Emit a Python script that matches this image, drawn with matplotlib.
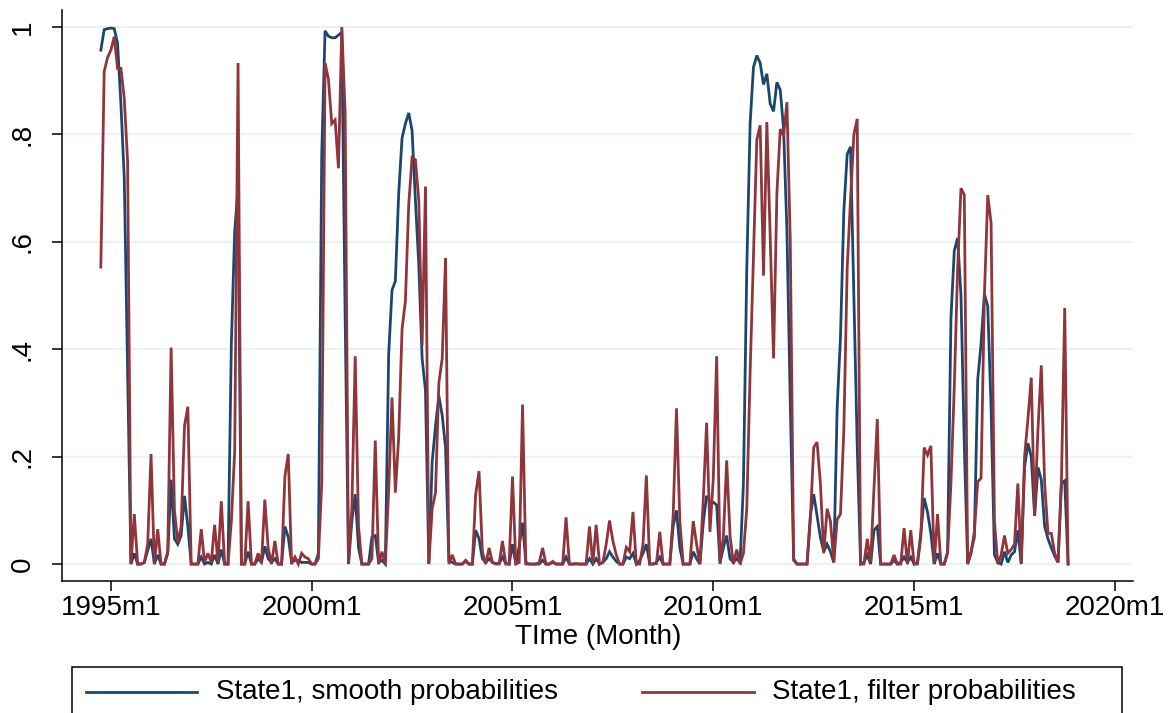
import matplotlib
matplotlib.use("Agg")
import matplotlib.pyplot as plt
from matplotlib.lines import Line2D
from matplotlib.patches import Rectangle
import numpy as np

# months since 1995m1 (first obs 1994m10)
start_month = -3

filter_prob = [
    0.553, 0.917, 0.943, 0.957, 0.982, 0.923, 0.923, 0.867, 0.75, 0.0,
    0.093, 0.0, 0.0, 0.003, 0.037, 0.205, 0.0, 0.065, 0.0, 0.0,
    0.023, 0.403, 0.1, 0.04, 0.07, 0.257, 0.293, 0.0, 0.0, 0.0,
    0.065, 0.003, 0.02, 0.003, 0.073, 0.003, 0.117, 0.0, 0.0, 0.08,
    0.21, 0.933, 0.0, 0.0, 0.117, 0.0, 0.0, 0.02, 0.003, 0.12,
    0.03, 0.0, 0.043, 0.0, 0.0, 0.163, 0.205, 0.0, 0.013, 0.0,
    0.02, 0.013, 0.01, 0.0, 0.0, 0.01, 0.15, 0.933, 0.903, 0.82,
    0.827, 0.737, 1.0, 0.84, 0.0, 0.103, 0.387, 0.07, 0.0, 0.0,
    0.0, 0.01, 0.23, 0.0, 0.023, 0.0, 0.137, 0.31, 0.133, 0.237,
    0.437, 0.49, 0.67, 0.757, 0.753, 0.677, 0.407, 0.703, 0.0, 0.103,
    0.133, 0.337, 0.383, 0.57, 0.0, 0.017, 0.0, 0.0, 0.0, 0.007,
    0.0, 0.0, 0.13, 0.173, 0.023, 0.0, 0.03, 0.003, 0.0, 0.0,
    0.043, 0.0, 0.0, 0.163, 0.0, 0.003, 0.297, 0.0, 0.0, 0.0,
    0.0, 0.003, 0.03, 0.0, 0.0, 0.005, 0.0, 0.0, 0.0, 0.087,
    0.0, 0.0, 0.001, 0.0, 0.0, 0.0, 0.07, 0.0, 0.073, 0.0,
    0.003, 0.037, 0.081, 0.043, 0.017, 0.0, 0.0, 0.031, 0.023, 0.097,
    0.0, 0.0, 0.037, 0.165, 0.0, 0.0, 0.001, 0.06, 0.0, 0.0,
    0.0, 0.09, 0.29, 0.08, 0.0, 0.0, 0.0, 0.08, 0.037, 0.0,
    0.12, 0.263, 0.06, 0.16, 0.387, 0.0, 0.05, 0.193, 0.053, 0.0,
    0.027, 0.0, 0.02, 0.103, 0.357, 0.57, 0.79, 0.817, 0.537, 0.823,
    0.61, 0.383, 0.69, 0.81, 0.797, 0.86, 0.6, 0.01, 0.0, 0.0,
    0.0, 0.0, 0.085, 0.217, 0.227, 0.15, 0.02, 0.103, 0.08, 0.003,
    0.083, 0.093, 0.25, 0.55, 0.68, 0.8, 0.829, 0.0, 0.0, 0.047,
    0.003, 0.14, 0.27, 0.0, 0.0, 0.0, 0.0, 0.017, 0.0, 0.0,
    0.067, 0.0, 0.063, 0.0, 0.0, 0.05, 0.217, 0.203, 0.22, 0.0,
    0.093, 0.0, 0.0, 0.02, 0.15, 0.33, 0.55, 0.7, 0.687, 0.0,
    0.02, 0.06, 0.153, 0.16, 0.5, 0.687, 0.635, 0.08, 0.0, 0.017,
    0.053, 0.02, 0.027, 0.037, 0.15, 0.003, 0.2, 0.27, 0.347, 0.09,
    0.25, 0.37, 0.15, 0.057, 0.057, 0.02, 0.003, 0.15, 0.477, 0.0,
]

smooth_prob = [
    0.957, 0.995, 0.997, 0.998, 0.997, 0.97, 0.857, 0.72, 0.36, 0.0,
    0.02, 0.0, 0.0, 0.003, 0.025, 0.047, 0.0, 0.017, 0.0, 0.0,
    0.02, 0.157, 0.047, 0.037, 0.053, 0.127, 0.07, 0.0, 0.0, 0.0,
    0.013, 0.0, 0.003, 0.0, 0.017, 0.0, 0.027, 0.0, 0.0, 0.41,
    0.62, 0.7, 0.0, 0.0, 0.023, 0.0, 0.0, 0.01, 0.003, 0.033,
    0.01, 0.003, 0.01, 0.0, 0.0, 0.07, 0.05, 0.003, 0.007, 0.007,
    0.003, 0.003, 0.003, 0.0, 0.0, 0.02, 0.76, 0.993, 0.983, 0.98,
    0.98, 0.985, 0.99, 0.46, 0.0, 0.08, 0.13, 0.03, 0.0, 0.0,
    0.0, 0.05, 0.053, 0.003, 0.007, 0.0, 0.39, 0.51, 0.527, 0.69,
    0.793, 0.82, 0.84, 0.807, 0.677, 0.557, 0.383, 0.323, 0.0, 0.19,
    0.257, 0.313, 0.277, 0.217, 0.007, 0.003, 0.0, 0.0, 0.0, 0.005,
    0.0, 0.0, 0.063, 0.047, 0.01, 0.003, 0.01, 0.003, 0.001, 0.001,
    0.013, 0.001, 0.0, 0.037, 0.0, 0.033, 0.077, 0.003, 0.0, 0.0,
    0.0, 0.0, 0.007, 0.0, 0.0, 0.003, 0.0, 0.0, 0.0, 0.013,
    0.0, 0.0, 0.0, 0.0, 0.0, 0.0, 0.01, 0.0, 0.01, 0.0,
    0.003, 0.01, 0.023, 0.013, 0.005, 0.0, 0.0, 0.013, 0.01, 0.02,
    0.0, 0.007, 0.02, 0.037, 0.0, 0.0, 0.003, 0.013, 0.0, 0.0,
    0.0, 0.07, 0.1, 0.03, 0.0, 0.0, 0.0, 0.023, 0.01, 0.0,
    0.077, 0.127, 0.117, 0.115, 0.11, 0.003, 0.03, 0.053, 0.01, 0.003,
    0.01, 0.003, 0.15, 0.55, 0.82, 0.925, 0.947, 0.933, 0.893, 0.913,
    0.857, 0.843, 0.897, 0.883, 0.81, 0.62, 0.3, 0.007, 0.0, 0.0,
    0.0, 0.0, 0.09, 0.13, 0.09, 0.05, 0.023, 0.037, 0.023, 0.003,
    0.29, 0.423, 0.657, 0.763, 0.777, 0.5, 0.22, 0.0, 0.003, 0.017,
    0.0, 0.063, 0.07, 0.0, 0.0, 0.0, 0.0, 0.007, 0.0, 0.003,
    0.013, 0.003, 0.013, 0.0, 0.003, 0.057, 0.123, 0.097, 0.057, 0.0,
    0.02, 0.0, 0.0, 0.023, 0.457, 0.583, 0.607, 0.5, 0.22, 0.0,
    0.023, 0.05, 0.343, 0.41, 0.503, 0.48, 0.29, 0.017, 0.003, 0.0,
    0.023, 0.003, 0.017, 0.023, 0.063, 0.0, 0.18, 0.225, 0.2, 0.09,
    0.18, 0.157, 0.07, 0.047, 0.03, 0.015, 0.003, 0.15, 0.155, 0.0,
]

tick_months = [0, 60, 120, 180, 240, 300]
tick_labels = ["1995m1", "2000m1", "2005m1", "2010m1", "2015m1", "2020m1"]
ytick_vals = [0, 0.2, 0.4, 0.6, 0.8, 1.0]
ytick_labels = ["0", ".2", ".4", ".6", ".8", "1"]
series_names = ["State1, smooth probabilities", "State1, filter probabilities"]

NAVY = "#1a476f"
MAROON = "#90353b"
GRID = "#eaf2f3"
LW = 2.0

plt.rcParams['font.family'] = ['Liberation Sans', 'DejaVu Sans']

W, H = 1168, 713
fig = plt.figure(figsize=(W / 100, H / 100), dpi=100)
fig.patch.set_facecolor("white")

x0, x1 = 62, 1133
ytop, ybot = 10, 580.7
ax = fig.add_axes([x0 / W, 1 - ybot / H, (x1 - x0) / W, (ybot - ytop) / H])

t = np.arange(start_month, start_month + len(filter_prob))
ax.plot(t, smooth_prob, color=NAVY, lw=LW, solid_joinstyle="miter", zorder=3)
ax.plot(t, filter_prob, color=MAROON, lw=LW, solid_joinstyle="miter", zorder=4)

ax.set_xlim(-14.6, 305.4)
ax.set_ylim(-0.031, 1.0317)

ax.set_yticks(ytick_vals)
ax.set_yticklabels(ytick_labels, rotation=90, va="center", fontsize=20)
ax.set_xticks(tick_months)
ax.set_xticklabels(tick_labels, fontsize=20)
ax.tick_params(axis="both", length=7, width=1.1, color="black")
ax.tick_params(axis="x", pad=3)
ax.tick_params(axis="y", pad=12)

ax.grid(axis="y", color=GRID, lw=1.6)
ax.set_axisbelow(True)
for s in ["top", "right"]:
    ax.spines[s].set_visible(False)
for s in ["left", "bottom"]:
    ax.spines[s].set_linewidth(1.1)
    ax.spines[s].set_color("black")

fig.text(598 / W, 1 - 637 / H, "TIme (Month)", ha="center", va="center", fontsize=20)

# legend box (bottom edge falls outside the figure)
fig.add_artist(Rectangle((72 / W, -0.05), (1122 - 72) / W, 0.05 + (713 - 667) / H,
                         transform=fig.transFigure, fill=False, edgecolor="black", lw=1.1))
ly = 1 - 692 / H
fig.add_artist(Line2D([86 / W, 197 / W], [ly, ly], transform=fig.transFigure, color=NAVY, lw=LW))
fig.text(216 / W, ly, series_names[0], ha="left", va="center", fontsize=20)
fig.add_artist(Line2D([642 / W, 754 / W], [ly, ly], transform=fig.transFigure, color=MAROON, lw=LW))
fig.text(772 / W, ly, series_names[1], ha="left", va="center", fontsize=20)

fig.savefig("out.png", dpi=100, facecolor="white")
